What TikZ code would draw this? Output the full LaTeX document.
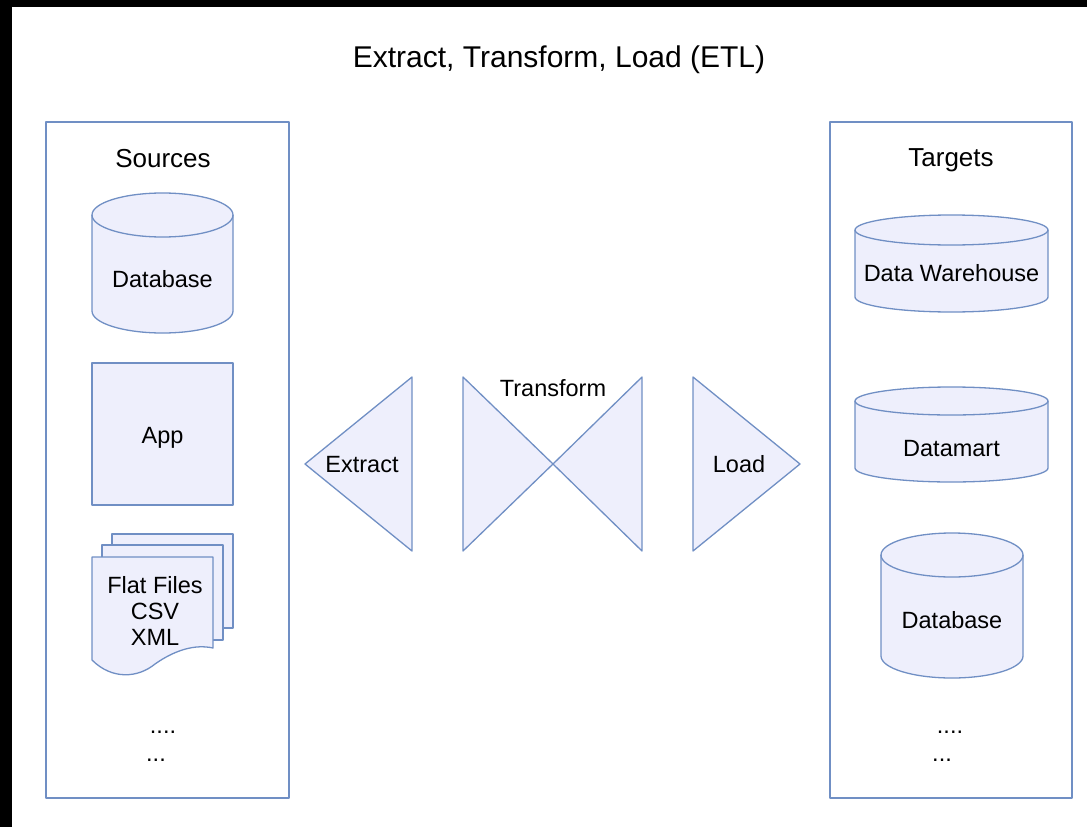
\documentclass[tikz,border=0pt]{standalone}
\usepackage{fontspec}
\setmainfont{Liberation Sans}
\usetikzlibrary{calc}
\definecolor{CEdge}{RGB}{112,143,196}
\definecolor{CFill}{RGB}{238,239,252}

\begin{document}
\begin{tikzpicture}[x=1pt, y=1pt, line width=1.3pt, line join=round,
    lbl/.style={font=\fontsize{23.5}{26}\selectfont, inner sep=0pt, text depth=0pt},
    hdr/.style={font=\fontsize{26}{30}\selectfont, inner sep=0pt, text depth=0pt},
    part/.style={draw=CEdge, fill=CFill},
    column/.style={draw=CEdge}]
    \useasboundingbox (0, 0) rectangle (1087, -827);
    \fill [black] (0, 0) rectangle (1087, -7);
    \fill [black] (0, 0) rectangle (12, -827);

    \node (title) [font=\fontsize{30}{35}\selectfont, inner sep=0pt, text depth=0pt] at (559, -57) {Extract, Transform, Load (ETL)};

    % sources
    \draw [column] (46, -122) rectangle (289, -798);
    \node (sources) [hdr] at (163, -158) {Sources};

    \draw [part] (92, -215) -- (92, -311) arc [start angle=180, end angle=360, x radius=70.5, y radius=22]
        -- (233, -215) arc [start angle=0, end angle=180, x radius=70.5, y radius=22] -- cycle;
    \draw [CEdge] (92, -215) arc [start angle=180, end angle=360, x radius=70.5, y radius=22];
    \node (srcdb) [lbl] at (162.5, -279) {Database};

    \draw [part] (92, -363) rectangle (233, -505);
    \node (app) [lbl] at (162.5, -435) {App};

    \draw [part] (112, -534) rectangle (233, -628);
    \draw [part] (102, -545) rectangle (223, -640);
    \draw [part] (92, -557) -- (92, -660) .. controls (112, -680) and (138, -678) .. (155, -664)
        .. controls (175, -650) and (195, -644) .. (213, -648) -- (213, -557) -- cycle;
    \node (files) [lbl, align=center] at (155, -611) {Flat Files\\CSV\\XML};

    \node (srcmore) [lbl] at (163, -732) {....};
    \node (srcetc) [lbl] at (156, -760) {...};

    % the three steps
    \draw [part] (412, -377) -- (412, -551) -- (305, -464) -- cycle;
    \node (extract) [lbl] at (362, -464) {Extract};

    \draw [part] (463, -377) -- (463, -551) -- (553, -464) -- cycle;
    \draw [part] (642, -377) -- (642, -551) -- (553, -464) -- cycle;
    \node (transform) [lbl] at (553, -388) {Transform};

    \draw [part] (693, -377) -- (693, -551) -- (800, -464) -- cycle;
    \node (load) [lbl] at (739, -464) {Load};

    % targets
    \draw [column] (830, -122) rectangle (1072, -798);
    \node (targets) [hdr] at (951, -158) {Targets};

    \draw [part] (855, -230) -- (855, -297) arc [start angle=180, end angle=360, x radius=96.5, y radius=15]
        -- (1048, -230) arc [start angle=0, end angle=180, x radius=96.5, y radius=15] -- cycle;
    \draw [CEdge] (855, -230) arc [start angle=180, end angle=360, x radius=96.5, y radius=15];
    \node (warehouse) [lbl] at (951.5, -273) {Data Warehouse};

    \draw [part] (855, -401) -- (855, -468) arc [start angle=180, end angle=360, x radius=96.5, y radius=14]
        -- (1048, -401) arc [start angle=0, end angle=180, x radius=96.5, y radius=14] -- cycle;
    \draw [CEdge] (855, -401) arc [start angle=180, end angle=360, x radius=96.5, y radius=14];
    \node (datamart) [lbl] at (951.5, -448) {Datamart};

    \draw [part] (881, -555) -- (881, -656) arc [start angle=180, end angle=360, x radius=71, y radius=22]
        -- (1023, -555) arc [start angle=0, end angle=180, x radius=71, y radius=22] -- cycle;
    \draw [CEdge] (881, -555) arc [start angle=180, end angle=360, x radius=71, y radius=22];
    \node (tgtdb) [lbl] at (952, -620) {Database};

    \node (tgtmore) [lbl] at (950, -732) {....};
    \node (tgtetc) [lbl] at (942, -760) {...};
\end{tikzpicture}
\end{document}
